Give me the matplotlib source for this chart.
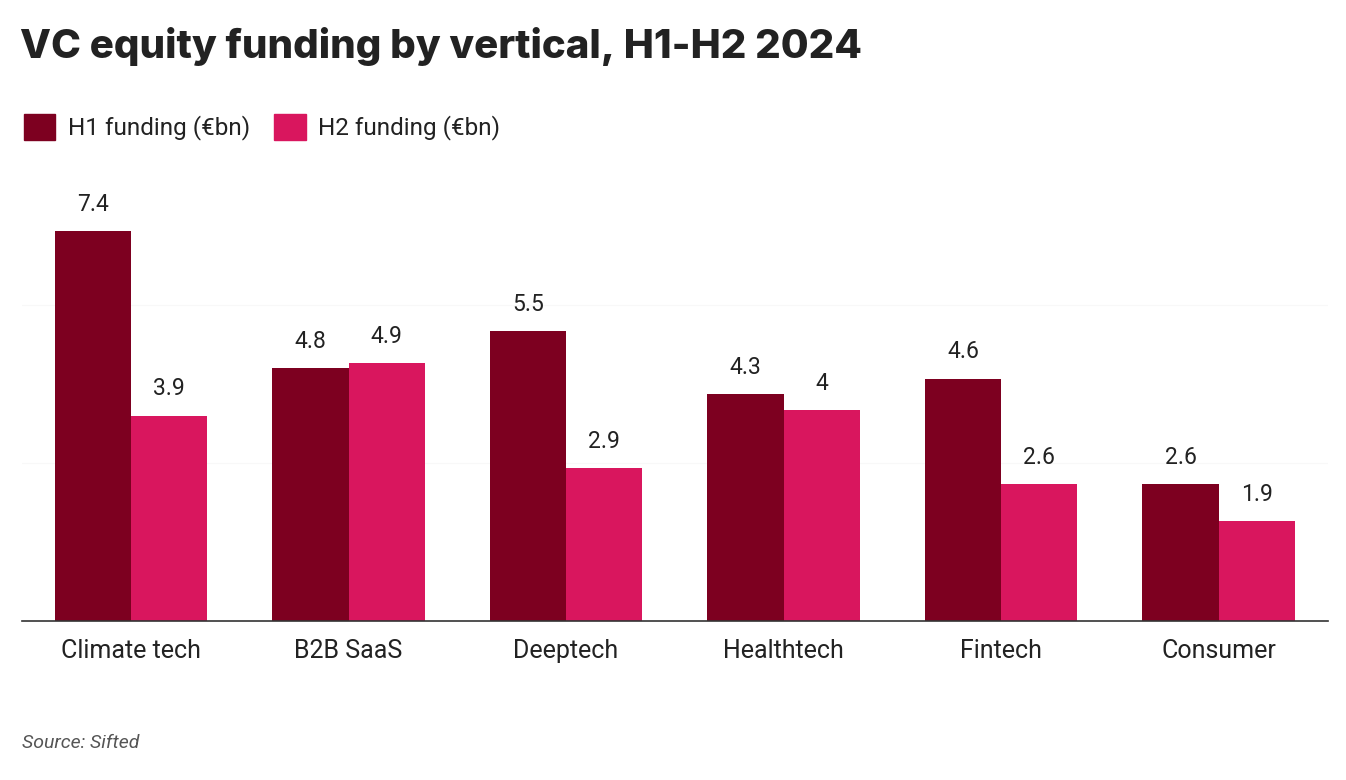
import matplotlib
matplotlib.use("Agg")
import matplotlib.pyplot as plt
import numpy as np
from matplotlib.patches import Patch

categories = ["Climate tech", "B2B SaaS", "Deeptech", "Healthtech", "Fintech", "Consumer"]
h1 = [7.4, 4.8, 5.5, 4.3, 4.6, 2.6]
h2 = [3.9, 4.9, 2.9, 4.0, 2.6, 1.9]
h1_labels = ["7.4", "4.8", "5.5", "4.3", "4.6", "2.6"]
h2_labels = ["3.9", "4.9", "2.9", "4", "2.6", "1.9"]

plt.rcParams['font.family'] = ['Roboto', 'DejaVu Sans']
W, H = 1346, 780
fig = plt.figure(figsize=(W/100, H/100), dpi=100)
ax = fig.add_axes([22/W, 1-621/H, (1328-22)/W, (621-170)/H])
x = np.arange(len(categories))
w = 0.35
c1, c2 = "#7d0020", "#d9165e"
b1 = ax.bar(x - w/2, h1, w, color=c1)
b2 = ax.bar(x + w/2, h2, w, color=c2)
for bars, labs in ((b1, h1_labels), (b2, h2_labels)):
    for b, l in zip(bars, labs):
        ax.annotate(l, (b.get_x()+b.get_width()/2, b.get_height()), xytext=(0, 11),
                    textcoords="offset points", ha="center", va="bottom", fontsize=16.5, color="#222222")
ax.set_xlim(-0.501, 5.503)
ax.set_ylim(0, 8.56)
ax.set_yticks([3, 6])
ax.yaxis.grid(True, color="#f8f8f8", lw=0.8)
ax.set_axisbelow(True)
ax.tick_params(axis='y', left=False, labelleft=False)
ax.tick_params(axis='x', length=0, labelsize=18, pad=13, colors="#222222")
ax.set_xticks(x)
ax.set_xticklabels(categories)
for s in ["top", "right", "left"]:
    ax.spines[s].set_visible(False)
ax.spines["bottom"].set_color("#333333")
ax.spines["bottom"].set_linewidth(1.2)

fig.text(20/W, 1-47/H, "VC equity funding by vertical, H1-H2 2024", fontsize=29, fontweight="heavy",
         family=["Inter", "DejaVu Sans"], va="center", ha="left", color="#222222")
handles = [Patch(color=c1, label="H1 funding (€bn)"), Patch(color=c2, label="H2 funding (€bn)")]
fig.legend(handles=handles, loc="center left", bbox_to_anchor=(2/W, 1-127/H), ncol=2, frameon=False,
           fontsize=17.5, handlelength=1.3, handleheight=1.3, handletextpad=0.5, columnspacing=1.0,
           labelcolor="#222222")
fig.text(22/W, 1-743/H, "Source: Sifted", fontsize=14, style="italic", color="#555555", va="center")
fig.savefig("out.png", dpi=100)
